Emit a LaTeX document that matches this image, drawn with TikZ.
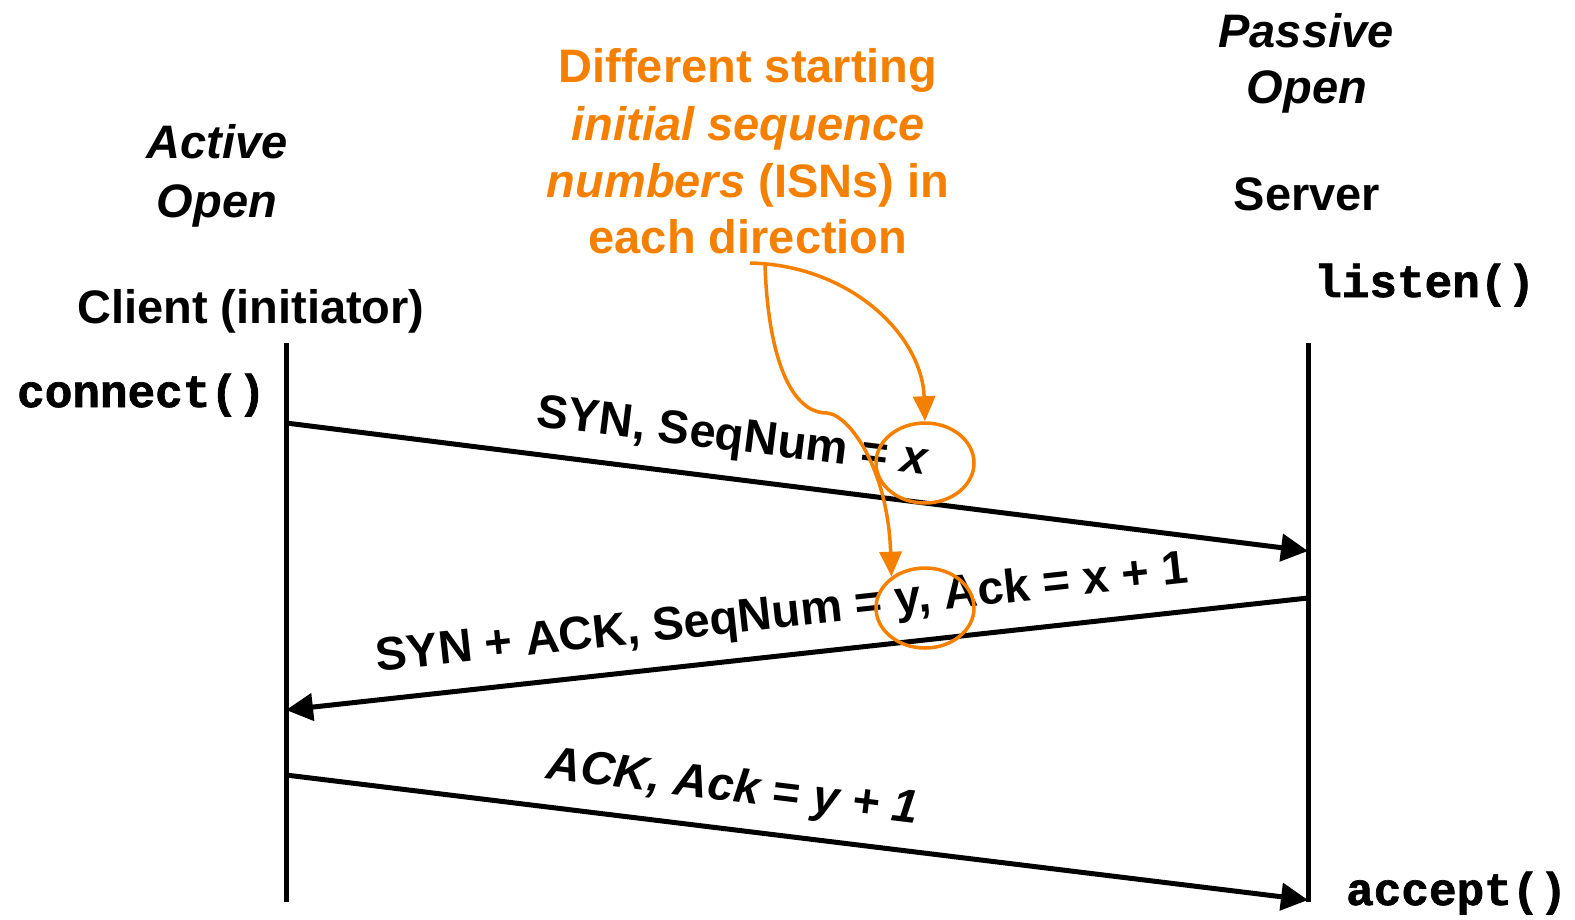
\documentclass[tikz,border=0pt]{standalone}
\usepackage{fontspec}
\setmainfont{Liberation Sans}
\setmonofont{Liberation Mono}[BoldFeatures={FakeBold=1.5}]
\usetikzlibrary{arrows.meta,shapes.geometric}
\definecolor{isnorange}{RGB}{245,128,0}
\tikzset{
  txt/.style={inner sep=0pt, font=\fontsize{47}{57}\selectfont\bfseries},
  code/.style={inner sep=0pt, font=\fontsize{46}{56}\selectfont\ttfamily\bfseries},
  life/.style={line width=5pt},
  msg/.style={line width=5pt, -{Triangle[length=27pt,width=27pt]}},
  lbl/.style={txt, sloped, anchor=base, yshift=28pt},
  note/.style={txt, text=isnorange},
  notearrow/.style={isnorange, line width=3.5pt, -{Triangle[length=25pt,width=22pt]}},
  ring/.style={draw=isnorange, line width=3.5pt, ellipse, minimum width=98pt, minimum height=80pt, inner sep=0pt}
}
\begin{document}
\begin{tikzpicture}[x=1pt,y=-1pt]
\useasboundingbox (0,0) rectangle (1575,919);
% headings
\node[txt, anchor=base] (active1) at (217,158) {\itshape Active};
\node[txt, anchor=base] (active2) at (217,217) {\itshape Open};
\node[txt, anchor=base] (client) at (251,323) {Client (initiator)};
\node[code, anchor=base west] (connect) at (17,407) {connect()};
\node[txt, anchor=base] (passive1) at (1306,47) {\itshape Passive};
\node[txt, anchor=base] (passive2) at (1307,103) {\itshape Open};
\node[txt, anchor=base] (server) at (1307,210) {Server};
\node[code, anchor=base west] (listen) at (1314,297) {listen()};
\node[code, anchor=base west] (accept) at (1346,905) {accept()};
% orange note
\node[note, anchor=base] (n1) at (748,82) {Different starting};
\node[note, anchor=base] (n2) at (748,140) {\itshape initial sequence};
\node[note, anchor=base] (n3) at (748,197) {\textit{numbers} (ISNs) in};
\node[note, anchor=base] (n4) at (748,253) {each direction};
% lifelines
\coordinate (ctop) at (286,343);
\coordinate (cbot) at (286,902);
\coordinate (stop) at (1308,343);
\coordinate (sbot) at (1308,902);
\draw[life] (ctop) -- (cbot);
\draw[life] (stop) -- (sbot);
% messages
\coordinate (c1) at (286,423);
\coordinate (s1) at (1308,551);
\coordinate (s2) at (1308,598);
\coordinate (c2) at (286,710);
\coordinate (c3) at (286,775);
\coordinate (s3) at (1308,900);
\draw[msg] (c1) -- (s1);
\draw[msg] (s2) -- (c2);
\draw[msg] (c3) -- (s3);
\path (c1) -- node[lbl, pos=0.432] (l1) {SYN, SeqNum = \textit{x}} (s1);
\path (c2) -- node[lbl, pos=0.49] (l2) {SYN + ACK, SeqNum = y, Ack = x + 1} (s2);
\path (c3) -- node[lbl, pos=0.432] (l3) {\itshape ACK, Ack = y + 1} (s3);
% rings and note arrows
\node[ring] (ex) at (925,463) {};
\node[ring] (ey) at (925,608) {};
\coordinate (tick) at (750,263);
\coordinate (fork) at (765,263);
\draw[notearrow] (tick) .. controls (850,265) and (922,335) .. (ex.north);
\draw[notearrow] (fork) .. controls (767,340) and (785,413) .. (827,413)
   .. controls (850,415) and (888,470) .. (ey.137);
\end{tikzpicture}
\end{document}
